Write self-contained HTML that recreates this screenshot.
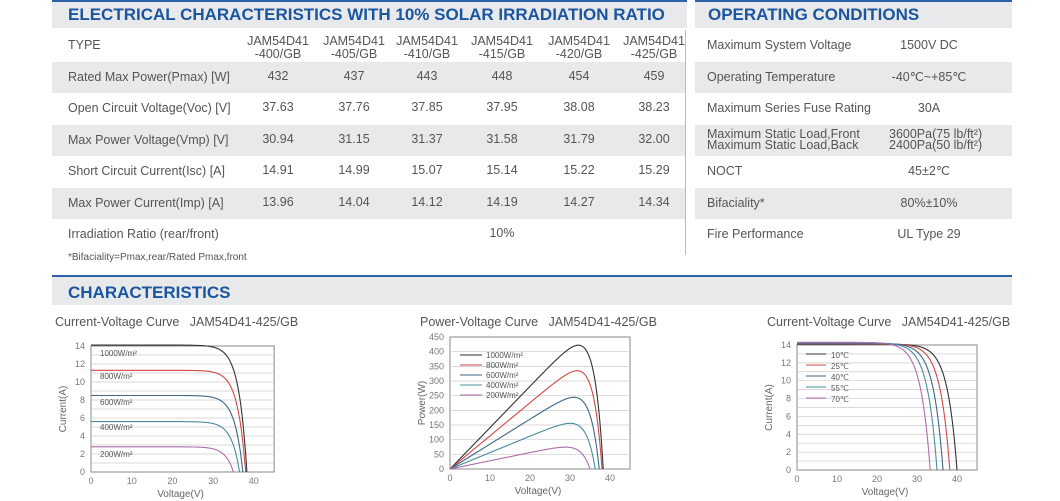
<!DOCTYPE html>
<html><head><meta charset="utf-8"><style>
body{margin:0;width:1060px;height:501px;background:#fff;font-family:"Liberation Sans",sans-serif;color:#555;position:relative;overflow:hidden}
.a{position:absolute;white-space:nowrap}
.band{position:absolute;background:#e8e9eb}
.h{position:absolute;color:#1a56a0;font-weight:bold;font-size:17px}
.t{position:absolute;font-size:12.5px;color:#555;white-space:nowrap}
.c{position:absolute;font-size:12.5px;color:#555;text-align:center;width:80px;line-height:13px}
</style></head><body>
<div class="a" style="left:52px;top:0;width:635px;height:2px;background:#2b62a8"></div>
<div class="a" style="left:695px;top:0;width:317px;height:2px;background:#2b62a8"></div>
<div class="band" style="left:52px;top:2px;width:635px;height:26px"></div>
<div class="band" style="left:695px;top:2px;width:317px;height:26px"></div>
<div class="h" style="left:68px;top:5px">ELECTRICAL CHARACTERISTICS WITH 10% SOLAR IRRADIATION RATIO</div>
<div class="h" style="left:708px;top:5px">OPERATING CONDITIONS</div>
<div class="a" style="left:685px;top:30px;width:1px;height:225px;background:#bbb"></div>
<div id="rows"></div>
<div class="t" style="left:68px;top:252px;font-size:10px">*Bifaciality=Pmax,rear/Rated Pmax,front</div>
<div class="a" style="left:52px;top:275px;width:960px;height:2px;background:#2b62a8"></div>
<div class="band" style="left:52px;top:277px;width:960px;height:28px"></div>
<div class="h" style="left:68px;top:283px">CHARACTERISTICS</div>
<div class="t" style="left:55px;top:315px">Current-Voltage Curve&nbsp;&nbsp;&nbsp;JAM54D41-425/GB</div>
<div class="t" style="left:420px;top:315px">Power-Voltage Curve&nbsp;&nbsp;&nbsp;JAM54D41-425/GB</div>
<div class="t" style="left:767px;top:315px">Current-Voltage Curve&nbsp;&nbsp;&nbsp;JAM54D41-425/GB</div>
<svg id="sv" class="a" style="left:0;top:0" width="1060" height="501"></svg>
<script>
var R=document.getElementById('rows'),h='';
var ys=[30,62,93,125,156,188,219];
var L=[['TYPE'],['Rated Max Power(Pmax) [W]','432','437','443','448','454','459'],['Open Circuit Voltage(Voc) [V]','37.63','37.76','37.85','37.95','38.08','38.23'],['Max Power Voltage(Vmp) [V]','30.94','31.15','31.37','31.58','31.79','32.00'],['Short Circuit Current(Isc) [A]','14.91','14.99','15.07','15.14','15.22','15.29'],['Max Power Current(Imp) [A]','13.96','14.04','14.12','14.19','14.27','14.34'],['Irradiation Ratio (rear/front)']];
var Rt=[['Maximum System Voltage','1500V DC'],['Operating Temperature','-40℃~+85℃'],['Maximum Series Fuse Rating','30A'],['',''],['NOCT','45±2℃'],['Bifaciality*','80%±10%'],['Fire Performance','UL Type 29']];
var cx=[278,354,427,502,579,654];
for(var i=0;i<7;i++){var y=ys[i],hh=(i<6?ys[i+1]:250)-y;
 if(i%2==1){h+='<div class="band" style="left:52px;top:'+y+'px;width:633px;height:'+hh+'px"></div><div class="band" style="left:695px;top:'+y+'px;width:317px;height:'+hh+'px"></div>';}
 var ty=y+hh/2-8;
 h+='<div class="t" style="left:68px;top:'+ty+'px">'+L[i][0]+'</div>';
 for(var j=1;j<L[i].length;j++)h+='<div class="c" style="left:'+(cx[j-1]-40)+'px;top:'+ty+'px">'+L[i][j]+'</div>';
 if(i==0)for(var j=0;j<6;j++)h+='<div class="c" style="left:'+(cx[j]-40)+'px;top:'+(y+5)+'px">JAM54D41<br>-'+(400+5*j)+'/GB</div>';
 if(i==6)h+='<div class="c" style="left:462px;top:'+ty+'px">10%</div>';
 if(i==3){h+='<div class="t" style="left:707px;top:'+(y+4)+'px;line-height:11px">Maximum Static Load,Front<br>Maximum Static Load,Back</div><div class="t" style="left:889px;top:'+(y+4)+'px;line-height:11px">3600Pa(75 lb/ft²)<br>2400Pa(50 lb/ft²)</div>';}
 else{h+='<div class="t" style="left:707px;top:'+ty+'px">'+Rt[i][0]+'</div><div class="c" style="left:889px;top:'+(ty+1)+'px">'+Rt[i][1]+'</div>';}
}
R.innerHTML=h;
var s='';
function IV(V,isc,voc,a){return isc*(1-(Math.exp(V/a)-1)/(Math.exp(voc/a)-1));}
function chart(x0,y0,px,py,ymax,ystep,gstep,lab,lines,pw,leg){
 var xr=x0+45*px,yt=y0-ymax*py;
 s+='<rect x="'+x0+'" y="'+yt+'" width="'+(45*px)+'" height="'+(ymax*py)+'" fill="#fff" stroke="#888" stroke-width="1"/>';
 for(var g=gstep;g<ymax;g+=gstep)s+='<line x1="'+x0+'" x2="'+xr+'" y1="'+(y0-g*py)+'" y2="'+(y0-g*py)+'" stroke="#ccc" stroke-width="0.7"/>';
 for(var g=0;g<=ymax;g+=ystep)s+='<text x="'+(x0-6)+'" y="'+(y0-g*py+3)+'" font-size="9" fill="#777" text-anchor="end">'+g+'</text>';
 for(var v=0;v<=40;v+=10)s+='<text x="'+(x0+v*px)+'" y="'+(y0+12)+'" font-size="9" fill="#777" text-anchor="middle">'+v+'</text>';
 s+='<text x="'+(x0+22*px)+'" y="'+(y0+25)+'" font-size="10" fill="#666" text-anchor="middle">Voltage(V)</text>';
 s+='<text transform="translate('+(x0-25)+','+(y0-ymax*py/2)+') rotate(-90)" font-size="10" fill="#666" text-anchor="middle">'+lab+'</text>';
 lines.forEach(function(l){var d='';for(var v=0;v<=l[1];v+=0.1){var vv=Math.min(v,l[1]);var I=Math.max(0,IV(vv,l[0],l[1],l[2]));var yv=pw?vv*I:I;d+=(d?'L':'M')+(x0+vv*px).toFixed(1)+','+(y0-yv*py).toFixed(1);}
 d+='L'+(x0+l[1]*px).toFixed(1)+','+y0;s+='<path d="'+d+'" fill="none" stroke="'+l[3]+'" stroke-width="1.1"/>';});
 leg();
}
var col=['#333','#d24848','#3d6688','#4a8c9c','#b06cb0'];
chart(91,472,4.07,9,14,2,1,'Current(A)',[[14.1,38.3,2.0,col[0]],[11.3,38,2.0,col[1]],[8.5,37.3,2.0,col[2]],[5.6,36.5,2.0,col[3]],[2.8,35,2.0,col[4]]],false,function(){
 var t=['1000W/m²','800W/m²','600W/m²','400W/m²','200W/m²'],yy=[356,379,405,430,457];for(var i=0;i<5;i++)s+='<text x="100" y="'+yy[i]+'" font-size="8" fill="#555">'+t[i]+'</text>';});
chart(450,469,4,0.2933,450,50,50,'Power(W)',[[14.1,38.3,2.3,col[0]],[11.3,38,2.3,col[1]],[8.5,37.3,2.4,col[2]],[5.6,36.3,2.4,col[3]],[2.8,35,2.4,col[4]]],true,function(){
 var t=['1000W/m²','800W/m²','600W/m²','400W/m²','200W/m²'];for(var i=0;i<5;i++){var y=355+i*10;s+='<line x1="460" x2="482" y1="'+y+'" y2="'+y+'" stroke="'+col[i]+'"/><text x="486" y="'+(y+3)+'" font-size="8" fill="#555">'+t[i]+'</text>';}});
chart(797,470,4,8.93,14,2,1,'Current(A)',[[14.1,40,2.4,col[0]],[14.15,38.2,2.4,col[1]],[14.2,36.5,2.4,col[2]],[14.25,35,2.4,col[3]],[14.3,33.3,2.4,col[4]]],false,function(){
 var t=['10℃','25℃','40℃','55℃','70℃'];for(var i=0;i<5;i++){var y=354+i*11;s+='<line x1="806" x2="826" y1="'+y+'" y2="'+y+'" stroke="'+col[i]+'"/><text x="831" y="'+(y+4)+'" font-size="8" fill="#555">'+t[i]+'</text>';}});
document.getElementById('sv').innerHTML=s;
</script>
</body></html>
